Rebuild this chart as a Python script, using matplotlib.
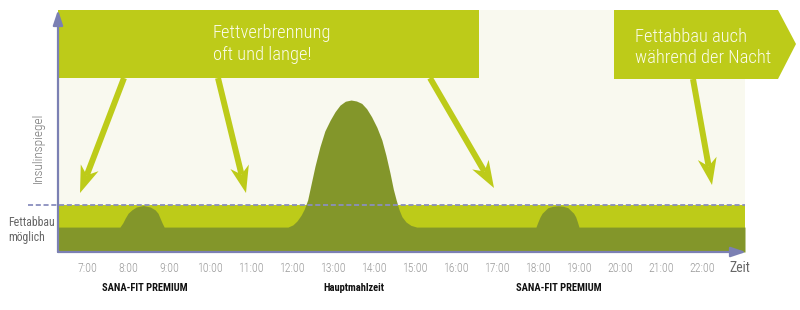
import numpy as np
import matplotlib.pyplot as plt
from matplotlib import font_manager
from matplotlib.patches import Polygon, Rectangle

# --- data -------------------------------------------------------------
hours = list(range(7, 23))
hour_labels = [f"{h}:00" for h in hours]

threshold = 19.4          # "Fettabbau möglich" limit
x_range = (6.29, 23.05)   # hours shown on the time axis

insulin_t = [6.29, 7.80, 7.87, 7.93, 8.00, 8.09, 8.20, 8.37, 8.54, 8.66, 8.73,
             8.78, 8.83, 8.88,
             11.90, 12.02, 12.12, 12.22, 12.30, 12.38, 12.47, 12.56, 12.68,
             12.80, 12.93, 13.05, 13.17, 13.30, 13.44, 13.57, 13.70, 13.82,
             13.94, 14.07, 14.19, 14.29, 14.39, 14.47, 14.54, 14.61, 14.68,
             14.78, 14.90, 15.04,
             17.95, 18.00, 18.05, 18.10, 18.24, 18.37, 18.49, 18.61, 18.73,
             18.87, 18.92, 18.96, 19.00, 23.05]
insulin_v = [10.3, 10.3, 12.0, 14.0, 16.0, 17.4, 18.6, 19.2, 18.6, 17.4, 16.0,
             14.0, 12.0, 10.3,
             10.3, 11.2, 12.8, 15.2, 17.8, 21.5, 28.5, 35.5, 43.5,
             50.0, 54.5, 58.0, 60.7, 62.3, 62.8, 62.4, 61.4, 59.2,
             55.9, 51.5, 46.3, 40.0, 32.6, 26.0, 21.5, 17.5, 14.6,
             12.4, 11.0, 10.3,
             10.3, 12.5, 14.5, 16.0, 18.3, 18.9, 19.1, 18.9, 18.3,
             16.0, 14.5, 12.5, 10.3, 10.3]

meal_times = [8.4, 13.5, 18.5]
meal_labels = ["SANA-FIT PREMIUM", "Hauptmahlzeit", "SANA-FIT PREMIUM"]

# --- style --------------------------------------------------------------
LIME = "#BDCB19"
OLIVE = "#83962A"
CREAM = "#F9F9EF"
AXIS = "#7B80B3"
DASH = "#8A8FBE"

names = {f.name for f in font_manager.fontManager.ttflist}


def pick(*cands):
    for c in cands:
        if c in names:
            return c
    return "DejaVu Sans"


light_font = pick("Roboto Condensed", "Liberation Sans Narrow", "Roboto")
bold_font = pick("Roboto Condensed", "Liberation Sans Narrow", "Roboto")

fig = plt.figure(figsize=(8, 3.1), dpi=100, facecolor="white")

# main chart area: px x 58..745, y 10..252
ax = fig.add_axes([58 / 800, 58 / 310, 687 / 800, 242 / 310])
ax.set_xlim(*x_range)
ax.set_ylim(0, 100)
ax.set_facecolor(CREAM)
for s in ax.spines.values():
    s.set_visible(False)

ax.fill_between(x_range, 0, threshold, color=LIME, lw=0, zorder=1)
ax.fill_between(insulin_t, 0, insulin_v, color=OLIVE, lw=0, zorder=2)
ax.plot([5.56, x_range[1]], [threshold, threshold], color=DASH, lw=1.3,
        ls=(0, (2.8, 1.5)), clip_on=False, zorder=3)

ax.set_xticks(hours, hour_labels)
ax.set_yticks([])
ax.tick_params(axis="x", length=0, pad=7, labelsize=8.5, labelcolor="#9A9A9A")
for lbl in ax.get_xticklabels():
    lbl.set_family(light_font)
    lbl.set_fontweight("light")

for t, lab in zip(meal_times, meal_labels):
    ax.text(t, -0.147, lab, transform=ax.get_xaxis_transform(), ha="center",
            va="center", fontsize=7.6, fontweight="bold", family=bold_font,
            color="#111111")

# overlay in pixel coordinates for banners, callouts and axis arrows
ov = fig.add_axes([0, 0, 1, 1])
ov.set_xlim(0, 800)
ov.set_ylim(310, 0)
ov.axis("off")
ov.patch.set_alpha(0)

ov.add_patch(Rectangle((58, 10), 421, 68, color=LIME, lw=0))
ov.add_patch(Polygon([(614, 10), (778, 10), (796, 44), (778, 79), (614, 79)],
                     closed=True, color=LIME, lw=0))

txt = dict(color="#FBFCEB", fontsize=13.3, family=light_font,
           fontweight="light", va="baseline", ha="left")
ov.text(213, 38, "Fettverbrennung", **txt)
ov.text(213, 60, "oft und lange!", **txt)
ov.text(635, 42, "Fettabbau auch", **txt)
ov.text(635, 63, "während der Nacht", **txt)


def callout(x0, y0, x1, y1, L=27, W=9.5, notch=8, half=3):
    d = np.array([x1 - x0, y1 - y0], dtype=float)
    d /= np.hypot(*d)
    n = np.array([-d[1], d[0]])
    p0 = np.array([x0, y0], dtype=float)
    tip = np.array([x1, y1], dtype=float)
    base = tip - (L - notch) * d
    shaft = [p0 + half * n, base + half * n, base - half * n, p0 - half * n]
    head = [tip, tip - L * d + W * n, base, tip - L * d - W * n]
    ov.add_patch(Polygon(shaft, closed=True, color=LIME, lw=0))
    ov.add_patch(Polygon(head, closed=True, color=LIME, lw=0))


callout(124, 78, 80, 193)
callout(218, 78, 246, 193)
callout(430, 78, 494, 188)
callout(693, 79, 712, 185)

arrow = dict(arrowstyle="-|>,head_length=0.9,head_width=0.3", color=AXIS,
             lw=1.6, shrinkA=0, shrinkB=0)
ov.annotate("", xy=(58, 10), xytext=(58, 252), arrowprops=arrow)
ov.annotate("", xy=(746, 252), xytext=(58, 252), arrowprops=arrow)

ov.text(740, 268, "Zeit", ha="center", va="center", fontsize=10,
        family=light_font, color="#666666")
ov.text(38, 148, "Insulinspiegel", ha="center", va="center", rotation=90,
        fontsize=9.5, family=light_font, fontweight="light", color="#777777")
ov.text(8, 222, "Fettabbau", ha="left", va="center", fontsize=8.5,
        family=light_font, color="#666666")
ov.text(8, 238, "möglich", ha="left", va="center", fontsize=8.5,
        family=light_font, color="#666666")

fig.savefig("out.png", dpi=100, facecolor="white")
